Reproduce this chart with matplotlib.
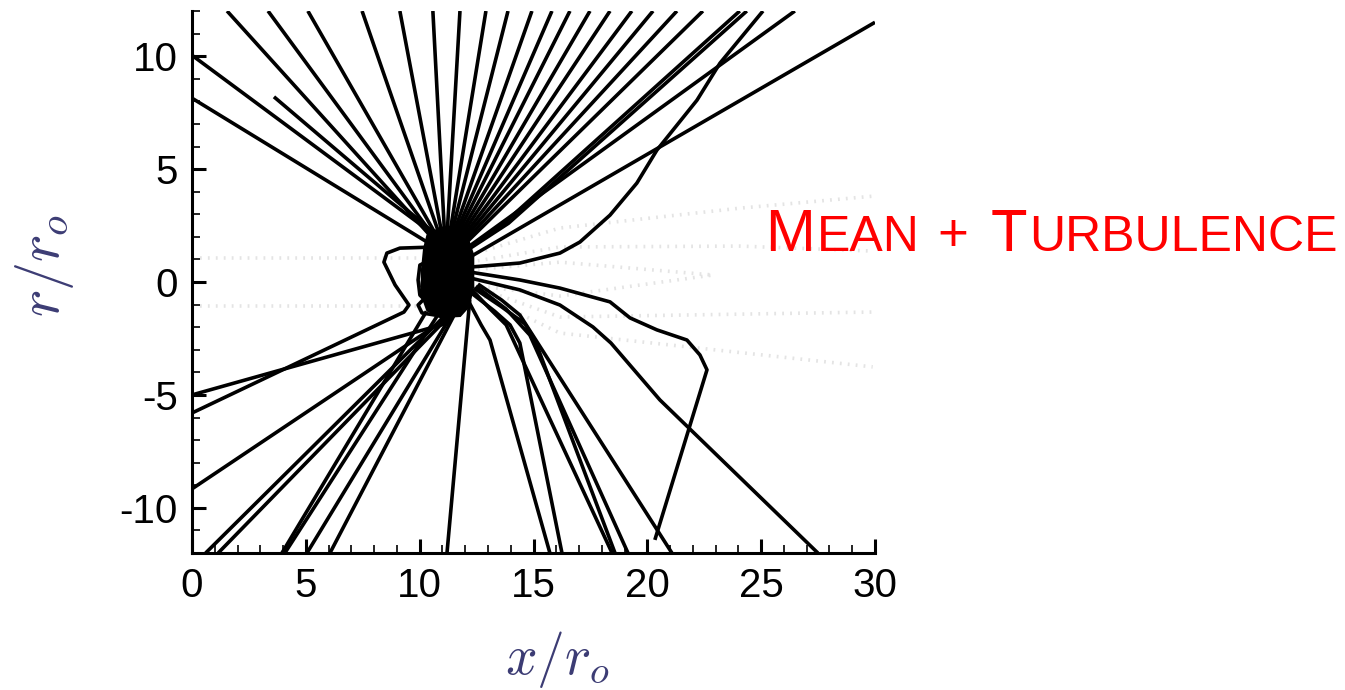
import matplotlib
matplotlib.use("Agg")
import matplotlib.pyplot as plt

plt.rcParams["mathtext.fontset"] = "cm"
plt.rcParams["axes.unicode_minus"] = False

# ---------------------------------------------------------------- axes setup
x_range = (0, 30)
r_range = (-12, 12)
x_major = [0, 5, 10, 15, 20, 25, 30]
x_labels = ["0", "5", "10", "15", "20", "25", "30"]
r_major = [-10, -5, 0, 5, 10]
r_labels = ["-10", "-5", "0", "5", "10"]

# ---------------------------------------------------------------- ray paths (x/r_o, r/r_o)
# rays leaving the source region towards the upper boundary
upper_rays = [
    [(1.54, 12.0), (10.6, 1.9)],
    [(3.34, 12.0), (10.7, 1.9)],
    [(5.09, 12.0), (10.8, 1.95)],
    [(7.47, 12.0), (10.9, 2.0)],
    [(9.13, 12.0), (11.0, 2.0)],
    [(10.58, 12.0), (11.1, 2.0)],
    [(11.77, 12.0), (11.2, 2.0)],
    [(12.91, 12.0), (11.3, 2.0)],
    [(13.88, 12.0), (11.35, 1.95)],
    [(14.93, 12.0), (11.4, 1.9)],
    [(15.81, 12.0), (11.45, 1.85)],
    [(16.60, 12.0), (11.5, 1.8)],
    [(17.48, 12.0), (11.55, 1.75)],
    [(18.36, 12.0), (11.6, 1.7)],
    [(19.32, 12.0), (11.65, 1.65)],
    [(20.25, 12.0), (11.7, 1.6)],
    [(21.30, 12.0), (11.75, 1.55)],
    [(22.44, 12.0), (11.8, 1.5)],
    [(24.06, 12.0), (13.7, 2.6), (12.0, 1.4)],
    [(24.37, 12.0), (13.9, 2.6), (12.0, 1.35)],
    [(26.48, 12.0), (12.2, 1.6)],
    [(30.0, 11.5), (12.2, 1.1)],
]

# rays leaving towards the upstream (left) boundary
left_rays = [
    [(0.0, 10.04), (10.5, 2.2)],
    [(0.0, 8.14), (10.6, 1.6)],
    [(3.6, 8.2), (10.6, 2.2)],
    [(0.0, -5.0), (11.3, -1.8)],
    [(0.0, -5.8), (9.31, -1.33), (9.53, -1.02), (8.92, -0.13), (8.43, 0.88),
     (8.56, 1.28), (9.13, 1.50), (10.67, 1.55)],
    [(0.0, -9.16), (11.2, -1.6)],
]

# rays leaving towards the lower boundary
lower_rays = [
    [(0.60, -12.0), (11.2, -1.4)],
    [(1.15, -12.0), (11.5, -1.3)],
    [(3.95, -12.0), (10.3, -1.3)],
    [(4.08, -12.0), (10.9, -1.3)],
    [(5.05, -12.0), (11.5, -1.3)],
    [(6.06, -12.0), (11.6, -1.3)],
    [(11.2, -12.0), (12.2, -0.8)],
    [(12.12, -0.80), (12.70, -1.90), (13.09, -2.57), (15.72, -12.0)],
    [(12.21, -0.44), (13.30, -1.30), (13.97, -1.90), (14.40, -2.70), (16.25, -12.0)],
    [(12.30, -0.35), (13.10, -1.20), (13.80, -1.90), (18.45, -12.0)],
    [(12.38, -0.27), (13.60, -1.10), (14.62, -1.85), (15.06, -2.57), (18.58, -12.0)],
    [(12.47, -0.18), (13.80, -1.20), (14.84, -2.35), (19.15, -12.0)],
    [(12.56, -0.09), (13.60, -0.80), (14.40, -1.46), (21.08, -12.0)],
]

# strongly refracted rays on the downstream side
bent_rays = [
    [(12.21, 0.66), (14.40, 0.84), (16.16, 1.28), (17.04, 1.77), (18.36, 2.96),
     (19.54, 4.38), (20.42, 5.84), (22.18, 8.05), (23.19, 9.69), (25.08, 12.0)],
    [(12.21, 0.44), (14.40, 0.09), (16.16, -0.27), (18.36, -0.88), (19.24, -1.59),
     (20.42, -2.12), (21.74, -2.57), (22.31, -3.23), (22.62, -3.89), (20.33, -11.42)],
    [(12.21, 0.18), (14.40, -0.35), (16.16, -1.02), (17.61, -1.99), (18.40, -2.70),
     (20.55, -5.22), (27.49, -12.0)],
]

# rays trapped near the source
trapped_loops = [
    [(10.89, -0.80), (10.23, -0.71), (9.93, -1.02), (10.10, -1.37), (10.89, -1.50), (11.77, -1.33)],
    [(10.45, 0.97), (10.01, 0.75), (9.93, 0.09), (10.01, -0.58), (10.45, -1.02)],
    [(10.67, 1.42), (10.28, 1.19), (10.19, 0.53), (10.36, -0.35), (10.80, -0.80)],
    [(10.50, 0.40), (10.15, 0.20), (10.10, -0.20), (10.40, -0.50), (10.70, -0.30)],
]

# dense caustic around the source
source_core = [
    (10.30, 2.10), (10.90, 2.45), (11.50, 2.50), (12.10, 2.10), (12.40, 1.20),
    (12.40, -0.20), (12.20, -1.10), (11.80, -1.55), (10.90, -1.60), (10.30, -1.30),
    (10.05, -0.60), (10.05, 0.50), (10.15, 1.50),
]

# mean-flow rays (shown faint)
mean_rays = [
    [(0.0, 1.06), (10.0, 1.06)],
    [(0.0, -1.06), (10.0, -1.06)],
    [(12.21, 1.20), (16.16, 2.39), (24.07, 3.27), (29.9, 3.80)],
    [(12.21, 0.88), (16.16, 1.55), (24.07, 1.59), (29.9, 1.37)],
    [(12.21, 0.53), (16.16, 0.88), (22.88, 0.31), (16.16, -0.62), (12.21, -0.13)],
    [(12.21, -0.13), (16.16, -1.55), (29.9, -1.33)],
    [(12.21, -0.35), (16.16, -2.26), (29.9, -3.76)],
]

# ---------------------------------------------------------------- figure
W, H = 1345, 690
fig = plt.figure(figsize=(W / 100, H / 100), dpi=100)
ax = fig.add_axes([192 / W, (H - 553) / H, (875 - 192) / W, (553 - 11) / H])

ray_kw = dict(color="black", lw=2.6, solid_capstyle="butt", solid_joinstyle="round")

for path in mean_rays:
    xs, ys = zip(*path)
    ax.plot(xs, ys, color="#e4e4e4", lw=2.6, ls=(0, (0.5, 1.7)), zorder=1)

cx, cy = zip(*source_core)
ax.fill(cx, cy, color="black", lw=0, zorder=2)

for group in (upper_rays, left_rays, lower_rays, bent_rays, trapped_loops):
    for path in group:
        xs, ys = zip(*path)
        ax.plot(xs, ys, zorder=3, **ray_kw)

ax.set_xlim(*x_range)
ax.set_ylim(*r_range)
ax.set_xticks(x_major)
ax.set_xticklabels(x_labels)
ax.set_yticks(r_major)
ax.set_yticklabels(r_labels)
ax.set_xticks(range(x_range[0], x_range[1] + 1), minor=True)
ax.set_yticks(range(r_range[0], r_range[1] + 1), minor=True)

for side in ("top", "right"):
    ax.spines[side].set_visible(False)
for side in ("left", "bottom"):
    ax.spines[side].set_linewidth(2.2)

ax.tick_params(which="major", direction="in", length=10, width=2.2,
               labelsize=29, pad=10)
ax.tick_params(which="minor", direction="in", length=5.5, width=1.2)
for lab in ax.get_xticklabels() + ax.get_yticklabels():
    lab.set_family("Liberation Sans")

label_color = "#3c3c74"
fig.text(557 / W, (H - 660) / H, r"$x/r_o$", fontsize=40, color=label_color,
         ha="center", va="center")
fig.text(45 / W, (H - 265) / H, r"$r/r_o$", fontsize=42, color=label_color,
         ha="center", va="center", rotation=90)

# small-caps title built from pieces
title_pieces = [
    ("M", 43, 765),
    ("EAN", 36, 817),
    ("+", 38, 937),
    ("T", 43, 991),
    ("URBULENCE", 36, 1029),
]
baseline = (H - 251) / H
for s, size, xpx in title_pieces:
    fig.text(xpx / W, baseline, s, fontsize=size, color="#ff0000",
             family="Liberation Sans", ha="left", va="baseline")

fig.savefig("out.png", dpi=100)
